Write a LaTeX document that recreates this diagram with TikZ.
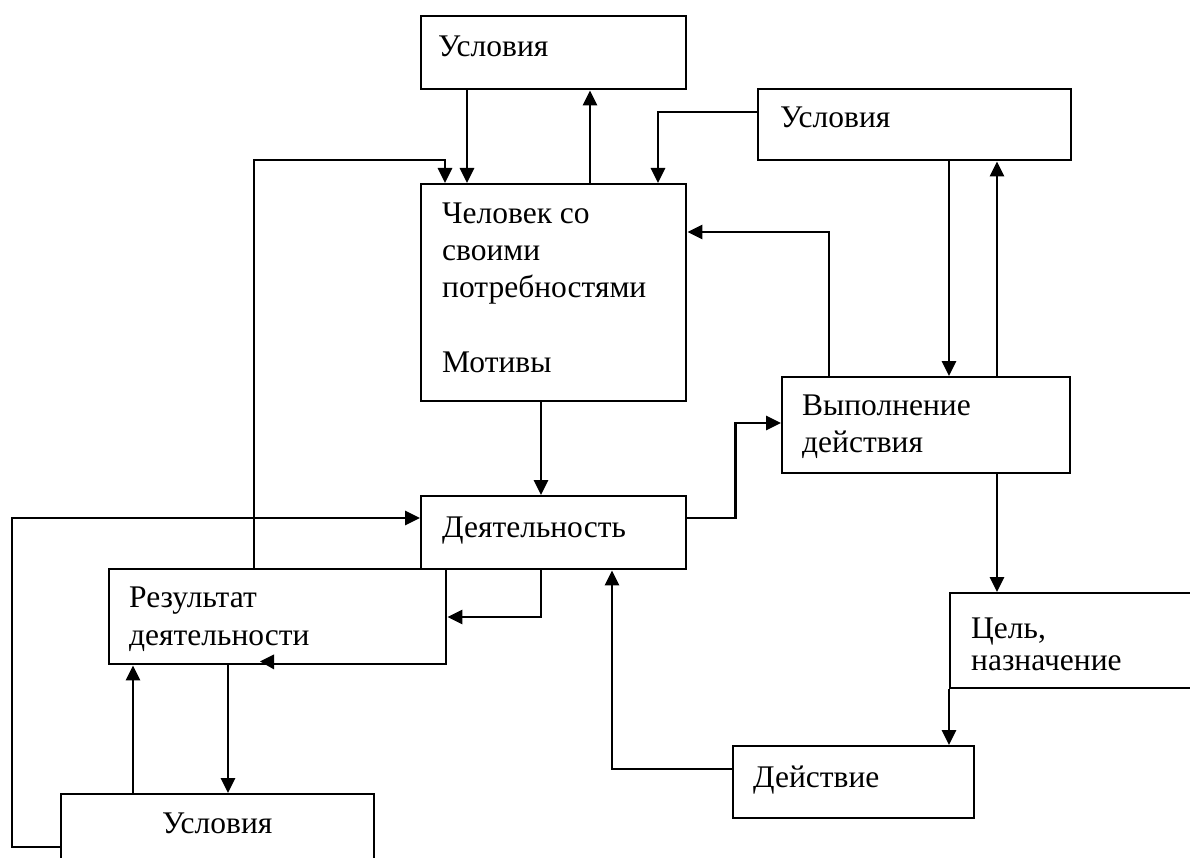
\documentclass[tikz,border=0pt]{standalone}
\usepackage{fontspec}
\setmainfont{Liberation Serif}
\usetikzlibrary{arrows.meta}
\begin{document}
\begin{tikzpicture}[x=1pt,y=-1pt,
  box/.style={draw,line width=2.4pt,anchor=north west,inner sep=0pt},
  txt/.style={anchor=base west,inner sep=0pt,font=\fontsize{31.5}{38}\selectfont},
  arr/.style={line width=2.8pt,-{Triangle[length=15pt,width=14pt]}}]
\useasboundingbox (0,0) rectangle (1190,858);
\clip (0,0) rectangle (1190,858);
% boxes
\node[box,minimum width=265pt,minimum height=73pt] (u1) at (420,15) {};
\node[box,minimum width=313pt,minimum height=71pt] (u2) at (757,88) {};
\node[box,minimum width=265pt,minimum height=217pt] (chel) at (420,183) {};
\node[box,minimum width=288pt,minimum height=96pt] (vyp) at (781,376) {};
\node[box,minimum width=265pt,minimum height=73pt] (deyat) at (420,495) {};
\node[box,minimum width=337pt,minimum height=95pt] (res) at (108,568) {};
\node[box,minimum width=300pt,minimum height=95pt] (cel) at (949,592) {};
\node[box,minimum width=241pt,minimum height=72pt] (deyst) at (732,745) {};
\node[box,minimum width=313pt,minimum height=100pt] (u3) at (60,793) {};
% texts
\node[txt] (t1) at (438,57) {Условия};
\node[txt] (t2) at (780,128) {Условия};
\node[txt] (t3) at (442,224) {Человек со};
\node[txt] (t4) at (442,261) {своими};
\node[txt] (t5) at (442,298) {потребностями};
\node[txt] (t6) at (442,372) {Мотивы};
\node[txt] (t7) at (802,415) {Выполнение};
\node[txt] (t8) at (802,452) {действия};
\node[txt] (t9) at (442,537) {Деятельность};
\node[txt] (t10) at (129,607) {Результат};
\node[txt] (t11) at (129,645) {деятельности};
\node[txt] (t12) at (971,638) {Цель,};
\node[txt] (t13) at (971,670) {назначение};
\node[txt] (t14) at (753,787) {Действие};
\node[txt] (t15) at (162,833) {Условия};
% connectors
\draw[arr] ([xshift=47pt]u1.south west) -- ([xshift=47pt]chel.north west);
\draw[arr] ([xshift=170pt]chel.north west) -- ([xshift=170pt]u1.south west);
\draw[arr] ([yshift=-24pt]u2.north west) -| ([xshift=238pt]chel.north west);
\draw[arr] ([xshift=146pt]res.north west) |- ([xshift=25pt,yshift=23pt]chel.north west) -- ([xshift=25pt]chel.north west);
\draw[arr] ([xshift=121pt]chel.south west) -- ([xshift=121pt]deyat.north west);
\draw[arr] ([xshift=48pt]vyp.north west) |- ([yshift=-49pt]chel.north east);
\draw[arr] ([yshift=-23pt]deyat.north east) -- ++(48,0) |- ([yshift=-47pt]vyp.north west);
\draw[arr] ([xshift=192pt]u2.south west) -- ([xshift=168pt]vyp.north west);
\draw[arr] ([xshift=216pt]vyp.north west) -- ([xshift=240pt]u2.south west);
\draw[arr] ([xshift=216pt]vyp.south west) -- ([xshift=48pt]cel.north west);
\draw[arr] (cel.south west) -- ([xshift=217pt]deyst.north west);
\draw[arr] ([yshift=-24pt]deyst.north west) -| ([xshift=192pt]deyat.south west);
\draw[arr] ([xshift=121pt]deyat.south west) |- ([yshift=-49pt]res.north east);
\draw[arr] ([yshift=-54pt]u3.north west) -- ++(-48,0) |- ([yshift=-23pt]deyat.north west);
\draw[arr] ([xshift=73pt]u3.north west) -- ([xshift=25pt]res.south west);
\draw[arr] ([xshift=120pt]res.south west) -- ([xshift=168pt]u3.north west);
% stray arrowhead
\fill ([xshift=152pt,yshift=4pt]res.south west) -- ++(14,-7) -- ++(0,15) -- cycle;
\end{tikzpicture}
\end{document}
